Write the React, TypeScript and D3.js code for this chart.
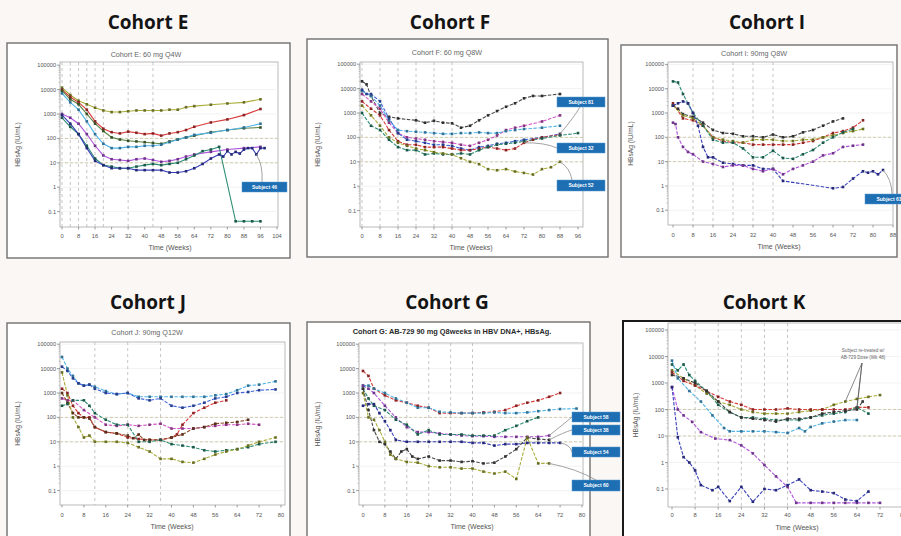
import React from 'react';
import * as d3 from 'd3';

type Pt = [number, number];

// ---- shared ticks ----
const yTicks = [0.1, 1, 10, 100, 1000, 10000, 100000];
const yTickLabels = ['0.1', '1', '10', '100', '1000', '10000', '100000'];
const ticksE = [0, 8, 16, 24, 32, 40, 48, 56, 64, 72, 80, 88, 96, 104];
const ticksF = [0, 8, 16, 24, 32, 40, 48, 56, 64, 72, 80, 88, 96];
const ticksI = [0, 8, 16, 24, 32, 40, 48, 56, 64, 72, 80, 88];
const ticksJG = [0, 8, 16, 24, 32, 40, 48, 56, 64, 72, 80];
const ticksK = [0, 8, 16, 24, 32, 40, 48, 56, 64, 72, 80];

// ---- Cohort E: 60 mg Q4W ----
const eOlive: Pt[] = [[0, 12000], [4, 6000], [8, 3500], [12, 2500], [16, 1800], [20, 1400], [24, 1200], [28, 1200], [32, 1300], [36, 1400], [40, 1400], [44, 1400], [48, 1400], [52, 1500], [56, 1500], [60, 1900], [64, 2100], [72, 2400], [80, 2700], [88, 3000], [96, 4000]];
const eRed: Pt[] = [[0, 10000], [4, 5000], [8, 3000], [12, 1500], [16, 500], [20, 250], [24, 180], [28, 160], [32, 190], [36, 170], [40, 150], [44, 160], [48, 130], [52, 160], [56, 180], [60, 220], [64, 300], [72, 450], [80, 600], [88, 900], [96, 1600]];
const eDkGreen: Pt[] = [[0, 9000], [4, 4000], [8, 2500], [12, 1000], [16, 400], [20, 200], [24, 110], [28, 90], [32, 80], [36, 75], [40, 70], [44, 65], [48, 60], [52, 75], [56, 90], [60, 110], [64, 130], [72, 180], [80, 220], [88, 260], [96, 280]];
const eCyan: Pt[] = [[0, 7000], [4, 3000], [8, 1500], [12, 500], [16, 150], [20, 60], [24, 40], [28, 40], [32, 45], [36, 45], [40, 50], [44, 50], [48, 55], [52, 70], [56, 90], [60, 110], [64, 140], [72, 170], [80, 220], [88, 280], [96, 400]];
const ePurple: Pt[] = [[0, 1000], [4, 700], [8, 400], [12, 150], [16, 50], [20, 20], [24, 14], [28, 13], [32, 12], [36, 14], [40, 15], [44, 13], [48, 11], [52, 12], [56, 14], [60, 18], [64, 22], [72, 28], [80, 35], [88, 40], [96, 45]];
const eTeal: Pt[] = [[0, 700], [4, 300], [8, 150], [12, 50], [16, 15], [20, 8], [24, 7], [28, 6], [32, 6], [36, 7], [40, 8], [44, 9], [48, 8], [52, 9], [56, 10], [60, 14], [64, 20], [68, 30], [72, 35], [76, 45], [84, 0.04], [88, 0.04], [92, 0.04], [96, 0.04]];
const eNavy: Pt[] = [[0, 900], [4, 400], [8, 150], [12, 40], [16, 12], [20, 8], [24, 6], [28, 6], [32, 6], [36, 5], [40, 5], [44, 5], [48, 5], [52, 4], [56, 4], [60, 4.5], [64, 6], [68, 9], [72, 15], [76, 22], [78, 18], [80, 30], [82, 22], [84, 28], [86, 24], [88, 35], [90, 40], [92, 40], [94, 22], [96, 40], [98, 40]];

// ---- Cohort F: 60 mg Q8W ----
const fBlack: Pt[] = [[0, 20000], [2, 15000], [4, 5000], [8, 1000], [12, 700], [16, 600], [24, 500], [28, 400], [32, 480], [36, 400], [40, 380], [44, 250], [48, 300], [52, 500], [56, 800], [60, 1200], [64, 1800], [68, 2500], [72, 4000], [76, 5000], [80, 5000], [88, 6000]];
const fMagenta: Pt[] = [[0, 6000], [4, 3000], [8, 1500], [12, 400], [16, 150], [20, 100], [24, 90], [28, 80], [32, 70], [36, 65], [40, 60], [44, 50], [48, 45], [52, 60], [56, 80], [60, 120], [64, 200], [68, 250], [72, 300], [80, 450], [88, 800]];
const fCyan: Pt[] = [[0, 8000], [4, 5000], [8, 2000], [12, 500], [16, 200], [20, 180], [24, 170], [28, 160], [32, 150], [36, 140], [40, 140], [44, 150], [48, 150], [52, 160], [56, 150], [60, 150], [64, 180], [68, 200], [72, 220], [80, 250], [88, 300]];
const fBlue: Pt[] = [[0, 9000], [2, 6000], [4, 6000], [8, 3000], [12, 600], [16, 150], [20, 80], [24, 70], [28, 60], [32, 50], [36, 50], [40, 45], [44, 35], [48, 30], [52, 40], [56, 45], [60, 55], [64, 60], [68, 70], [72, 80], [80, 100], [88, 140]];
const fRed: Pt[] = [[0, 3000], [4, 1500], [8, 800], [12, 200], [16, 70], [20, 50], [24, 50], [28, 40], [32, 40], [36, 40], [40, 35], [44, 30], [48, 30], [52, 35], [56, 40], [60, 35], [64, 30], [68, 35], [72, 60], [76, 80], [80, 100], [88, 130]];
const fGreen: Pt[] = [[0, 1000], [4, 300], [8, 200], [12, 80], [16, 40], [20, 30], [24, 30], [28, 20], [32, 22], [36, 20], [40, 20], [44, 22], [48, 20], [52, 30], [56, 40], [60, 50], [64, 55], [68, 60], [72, 70], [80, 90], [88, 120], [96, 150]];
const fOlive: Pt[] = [[0, 2000], [4, 800], [8, 300], [12, 100], [16, 60], [20, 45], [24, 35], [28, 30], [32, 25], [36, 22], [40, 20], [44, 14], [48, 10], [52, 8], [56, 5], [60, 4.5], [64, 5], [68, 4], [72, 3.5], [76, 3], [80, 5], [84, 6], [88, 10]];

// ---- Cohort I: 90mg Q8W ----
const iBlack: Pt[] = [[0, 2000], [2, 1500], [4, 900], [8, 700], [12, 400], [16, 200], [20, 150], [24, 140], [28, 110], [32, 110], [36, 100], [40, 130], [44, 100], [48, 110], [52, 160], [56, 200], [60, 300], [64, 450], [68, 600]];
const iRed: Pt[] = [[0, 2500], [4, 600], [8, 500], [12, 300], [16, 100], [20, 70], [24, 60], [28, 60], [32, 50], [36, 50], [40, 50], [44, 50], [48, 50], [52, 60], [56, 70], [60, 100], [64, 150], [68, 180], [72, 250], [76, 500]];
const iOlive: Pt[] = [[0, 2000], [4, 800], [8, 600], [12, 300], [16, 100], [20, 80], [24, 70], [28, 60], [32, 80], [36, 80], [40, 80], [44, 70], [48, 70], [52, 80], [56, 80], [60, 100], [64, 120], [68, 150], [72, 180], [76, 220]];
const iTeal: Pt[] = [[0, 20000], [2, 18000], [4, 6000], [6, 2500], [8, 1000], [12, 300], [16, 80], [20, 60], [24, 60], [28, 35], [32, 15], [36, 15], [40, 28], [44, 14], [48, 13], [52, 20], [56, 30], [60, 60], [64, 100], [68, 160], [72, 220]];
const iNavy: Pt[] = [[0, 2000], [2, 2500], [4, 3000], [6, 2500], [8, 1000], [10, 300], [12, 40], [14, 15], [16, 15], [20, 9], [24, 8], [28, 7], [32, 7], [36, 5], [40, 5], [44, 1.6], [64, 0.8], [68, 0.9], [72, 2], [76, 4], [78, 3.5], [80, 4], [82, 3], [84, 4.5]];
const iPurple: Pt[] = [[0, 400], [1, 350], [2, 100], [4, 40], [6, 25], [8, 20], [12, 10], [16, 8], [20, 6], [24, 7], [28, 7], [32, 5], [36, 4], [40, 5], [44, 3], [48, 5], [52, 7], [56, 10], [60, 18], [64, 22], [68, 40], [72, 45], [76, 50]];

// ---- Cohort J: 90mg Q12W ----
const jCyan: Pt[] = [[0, 30000], [2, 10000], [4, 5000], [6, 2500], [8, 2000], [10, 2200], [12, 1800], [16, 1200], [20, 900], [24, 1000], [28, 700], [32, 700], [36, 700], [40, 700], [44, 700], [48, 700], [52, 700], [56, 800], [60, 900], [64, 1300], [68, 2000], [72, 2200], [78, 3000]];
const jBlue: Pt[] = [[0, 12000], [2, 8000], [4, 4000], [6, 2500], [8, 2000], [10, 2200], [12, 1500], [16, 1000], [20, 900], [24, 1000], [28, 600], [32, 500], [36, 600], [40, 300], [44, 250], [48, 300], [52, 400], [56, 600], [60, 700], [64, 1000], [68, 1100], [72, 1300], [78, 1400]];
const jRed: Pt[] = [[0, 1500], [2, 1000], [4, 300], [6, 150], [8, 100], [10, 100], [12, 40], [16, 25], [20, 22], [24, 15], [28, 13], [32, 12], [36, 12], [40, 15], [42, 20], [44, 50], [48, 150], [52, 250], [56, 400], [60, 500]];
const jMagenta: Pt[] = [[0, 600], [2, 500], [4, 500], [8, 200], [12, 100], [16, 50], [20, 45], [24, 50], [28, 45], [32, 50], [36, 55], [40, 35], [44, 35], [48, 35], [52, 40], [56, 45], [60, 50], [64, 50], [68, 55], [72, 50]];
const jBrown: Pt[] = [[0, 1000], [2, 400], [4, 150], [6, 100], [8, 100], [10, 90], [12, 40], [16, 25], [20, 22], [24, 18], [26, 14], [28, 20], [30, 12], [32, 12], [36, 12], [40, 15], [44, 20], [48, 35], [52, 40], [56, 55], [60, 60], [64, 65], [68, 80]];
const jTeal: Pt[] = [[0, 300], [2, 350], [4, 500], [8, 500], [10, 300], [12, 150], [16, 80], [20, 50], [24, 50], [28, 10], [32, 10], [36, 12], [40, 8], [44, 7], [48, 6], [52, 4.5], [56, 4], [60, 4.5], [64, 5], [68, 6], [72, 8], [78, 10]];
const jOlive: Pt[] = [[0, 7000], [2, 800], [4, 100], [6, 40], [8, 15], [10, 18], [12, 10], [16, 10], [20, 10], [24, 9], [28, 6], [32, 4], [36, 2], [40, 2], [44, 1.5], [48, 1.4], [52, 2], [56, 3], [60, 4], [64, 5], [68, 7], [72, 10], [78, 15]];

// ---- Cohort G: AB-729 90 mg Q8weeks ----
const gRed: Pt[] = [[0, 8000], [2, 5000], [4, 1500], [8, 800], [12, 500], [16, 400], [20, 300], [24, 250], [28, 150], [32, 150], [36, 150], [40, 150], [44, 160], [48, 170], [52, 200], [56, 300], [60, 400], [64, 500], [68, 700], [72, 1000]];
const gCyan: Pt[] = [[0, 2000], [2, 2000], [4, 1500], [8, 1000], [12, 600], [16, 400], [20, 250], [24, 250], [28, 170], [32, 160], [36, 150], [40, 150], [44, 150], [48, 160], [52, 150], [56, 150], [60, 160], [64, 180], [68, 200], [72, 220], [78, 230]];
const gMagenta: Pt[] = [[0, 2000], [2, 1500], [4, 1000], [8, 300], [12, 100], [16, 40], [20, 25], [24, 25], [28, 22], [32, 20], [36, 18], [40, 17], [44, 17], [48, 16], [52, 16], [56, 16], [60, 16], [64, 16], [68, 18]];
const gTeal: Pt[] = [[0, 1500], [2, 600], [4, 300], [8, 200], [12, 80], [16, 50], [20, 20], [24, 30], [28, 20], [32, 20], [36, 20], [40, 18], [44, 18], [48, 18], [52, 30], [56, 45], [60, 70], [64, 100]];
const gNavy: Pt[] = [[0, 300], [2, 350], [4, 350], [6, 150], [8, 70], [10, 30], [12, 12], [16, 10], [20, 10], [24, 10], [28, 10], [32, 10], [36, 10], [40, 9], [44, 9], [48, 7], [52, 8], [56, 8], [60, 9], [64, 9], [68, 9], [72, 9]];
const gBlack: Pt[] = [[0, 1500], [2, 200], [4, 30], [6, 10], [8, 8], [10, 4], [12, 2], [14, 4], [16, 5], [18, 2.5], [20, 2], [24, 2.5], [28, 1.7], [32, 1.7], [36, 1.5], [40, 1.6], [44, 1.3], [48, 1.4], [52, 2.5], [56, 5], [60, 15], [64, 13], [68, 12]];
const gOlive: Pt[] = [[0, 1000], [2, 100], [4, 80], [6, 30], [8, 10], [10, 3], [12, 2], [16, 1.5], [20, 1.4], [24, 1], [28, 0.9], [32, 0.9], [36, 0.8], [40, 0.8], [44, 0.6], [48, 0.5], [52, 0.6], [56, 0.3], [60, 15], [64, 1.3], [68, 1.3]];

// ---- Cohort K ----
const kOlive: Pt[] = [[0, 3000], [4, 1500], [8, 800], [12, 400], [16, 200], [20, 150], [24, 100], [28, 80], [32, 70], [36, 70], [40, 70], [44, 80], [48, 90], [52, 100], [56, 150], [60, 200], [64, 250], [68, 300], [72, 350]];
const kRed: Pt[] = [[0, 2500], [4, 1200], [8, 800], [12, 500], [16, 300], [20, 200], [24, 150], [28, 100], [32, 100], [36, 100], [40, 110], [44, 100], [48, 100], [52, 100], [56, 100], [60, 100], [64, 120], [68, 120]];
const kTeal: Pt[] = [[0, 5000], [2, 3000], [4, 5000], [6, 2000], [8, 1200], [12, 500], [16, 150], [20, 80], [24, 50], [28, 50], [32, 45], [36, 40], [40, 40], [44, 40], [48, 50], [52, 60], [56, 70], [60, 80], [64, 120], [68, 70]];
const kBlack: Pt[] = [[0, 2000], [4, 1500], [8, 1000], [12, 500], [16, 200], [20, 80], [24, 50], [28, 45], [32, 40], [36, 35], [40, 45], [44, 45], [48, 50], [52, 70], [56, 80], [60, 90], [64, 100], [66, 200]];
const kCyan: Pt[] = [[0, 7000], [2, 1500], [6, 500], [10, 200], [14, 60], [18, 20], [20, 15], [24, 15], [28, 15], [32, 15], [36, 14], [40, 13], [44, 20], [46, 15], [48, 22], [52, 30], [56, 35], [60, 40], [64, 40]];
const kPurple: Pt[] = [[0, 700], [2, 100], [4, 60], [7, 34], [10, 14], [15, 8], [20, 7], [24, 4.4], [28, 2.2], [32, 0.8], [36, 0.3], [40, 0.12], [43, 0.03], [48, 0.03], [52, 0.03], [56, 0.03], [60, 0.03], [64, 0.03], [68, 0.03], [72, 0.03]];
const kIndigo: Pt[] = [[0, 700], [2, 9], [4, 1.6], [6, 1], [8, 0.5], [10, 0.14], [14, 0.09], [16, 0.12], [20, 0.035], [24, 0.12], [28, 0.033], [32, 0.1], [36, 0.09], [40, 0.14], [44, 0.23], [48, 0.09], [52, 0.08], [56, 0.07], [60, 0.04], [64, 0.035], [68, 0.08]];

const C = {
  olive: '#a9ad3a', red: '#d83a3a', dkGreen: '#55803f', cyan: '#4fb4ea', purple: '#b055dc',
  teal: '#2c8c74', navy: '#3a40bb', black: '#4a4a4a', magenta: '#d455c8', blue: '#3d62dc', brown: '#8a4a2a',
};

interface Callout { text: string; box: [number, number, number, number]; from: Pt; to: [number, number] }
interface PanelCfg {
  key: string; header: string; hx: number; hy: number;
  title: string; bold?: boolean; tx: number; ty: number;
  frame: [number, number, number, number]; frameStroke: string; frameWidth: number;
  plot: { left: number; right: number; top: number; bottom: number };
  x0: number; xEnd: number; xMax: number; y1000: number; dec: number;
  ticks: number[]; vDash: number[]; dashed: boolean;
  series: { data: Pt[]; color: string }[];
  tickY: number; axTitleX: number; axTitleY: number; yTitleX: number;
  callouts: Callout[];
}

const panels: PanelCfg[] = [
  {
    key: 'E', header: 'Cohort E', hx: 148, hy: 29, title: 'Cohort E: 60 mg Q4W', tx: 146, ty: 57,
    frame: [7, 43, 283, 215], frameStroke: '#707070', frameWidth: 1.4,
    plot: { left: 60, right: 278, top: 62, bottom: 227 }, x0: 62, xEnd: 277, xMax: 104, y1000: 114, dec: 24.4,
    ticks: ticksE, vDash: [0, 4, 8, 12, 16, 20, 32, 44], dashed: false,
    series: [
      { data: eOlive, color: C.olive }, { data: eRed, color: C.red }, { data: eDkGreen, color: C.dkGreen },
      { data: eCyan, color: C.cyan }, { data: ePurple, color: C.purple }, { data: eTeal, color: C.teal },
      { data: eNavy, color: C.navy },
    ],
    tickY: 238, axTitleX: 170, axTitleY: 250, yTitleX: 20,
    callouts: [{ text: 'Subject 46', box: [242, 182, 45, 10], from: eNavy[28], to: [262, 182] }],
  },
  {
    key: 'F', header: 'Cohort F', hx: 450, hy: 29, title: 'Cohort F: 60 mg Q8W', tx: 447, ty: 55,
    frame: [307, 39, 301, 218], frameStroke: '#707070', frameWidth: 1.4,
    plot: { left: 360, right: 583, top: 62, bottom: 227 }, x0: 362, xEnd: 578, xMax: 96, y1000: 113, dec: 24.4,
    ticks: ticksF, vDash: [0, 8, 16, 24, 32, 40], dashed: true,
    series: [
      { data: fBlack, color: C.black }, { data: fMagenta, color: C.magenta }, { data: fCyan, color: C.cyan },
      { data: fBlue, color: C.blue }, { data: fRed, color: C.red }, { data: fGreen, color: C.teal },
      { data: fOlive, color: C.olive },
    ],
    tickY: 238, axTitleX: 471, axTitleY: 250, yTitleX: 320,
    callouts: [
      { text: 'Subject 81', box: [557, 97, 48, 10], from: fBlue[21], to: [580, 107] },
      { text: 'Subject 32', box: [557, 143, 48, 10], from: fRed[18], to: [557, 148] },
      { text: 'Subject 52', box: [557, 180, 48, 11], from: fOlive[22], to: [572, 180] },
    ],
  },
  {
    key: 'I', header: 'Cohort I', hx: 767, hy: 29, title: 'Cohort I: 90mg Q8W', tx: 754, ty: 56,
    frame: [621, 45, 276, 212], frameStroke: '#707070', frameWidth: 1.4,
    plot: { left: 668, right: 893, top: 62, bottom: 225 }, x0: 673, xEnd: 893, xMax: 88, y1000: 113, dec: 24.3,
    ticks: ticksI, vDash: [8, 16, 24, 32, 40], dashed: true,
    series: [
      { data: iBlack, color: C.black }, { data: iRed, color: C.red }, { data: iOlive, color: C.olive },
      { data: iTeal, color: C.teal }, { data: iNavy, color: C.navy }, { data: iPurple, color: C.purple },
    ],
    tickY: 237, axTitleX: 779, axTitleY: 249, yTitleX: 633,
    callouts: [{ text: 'Subject 61', box: [865, 194, 48, 10], from: iNavy[23], to: [892, 194] }],
  },
  {
    key: 'J', header: 'Cohort J', hx: 148, hy: 309, title: 'Cohort J: 90mg Q12W', tx: 147, ty: 335,
    frame: [7, 323, 283, 230], frameStroke: '#707070', frameWidth: 1.4,
    plot: { left: 60, right: 285, top: 342, bottom: 505 }, x0: 62, xEnd: 281, xMax: 80, y1000: 393, dec: 24.4,
    ticks: ticksJG, vDash: [12, 24, 36], dashed: true,
    series: [
      { data: jCyan, color: C.cyan }, { data: jBlue, color: C.blue }, { data: jRed, color: C.red },
      { data: jMagenta, color: C.magenta }, { data: jBrown, color: C.brown }, { data: jTeal, color: C.teal },
      { data: jOlive, color: C.olive },
    ],
    tickY: 517, axTitleX: 172, axTitleY: 529, yTitleX: 20,
    callouts: [],
  },
  {
    key: 'G', header: 'Cohort G', hx: 447, hy: 309, title: 'Cohort G: AB-729 90 mg Q8weeks in HBV DNA+, HBsAg.', bold: true, tx: 452, ty: 334,
    frame: [307, 322, 283, 230], frameStroke: '#707070', frameWidth: 1.4,
    plot: { left: 359, right: 583, top: 343, bottom: 505 }, x0: 363, xEnd: 582, xMax: 80, y1000: 393, dec: 24.4,
    ticks: ticksJG, vDash: [8, 16, 24, 32, 40], dashed: true,
    series: [
      { data: gRed, color: C.red }, { data: gCyan, color: C.cyan }, { data: gMagenta, color: C.purple },
      { data: gTeal, color: C.teal }, { data: gNavy, color: C.navy }, { data: gBlack, color: C.black },
      { data: gOlive, color: C.olive },
    ],
    tickY: 517, axTitleX: 472, axTitleY: 529, yTitleX: 320,
    callouts: [
      { text: 'Subject 58', box: [572, 412, 48, 10], from: gMagenta[18], to: [572, 417] },
      { text: 'Subject 38', box: [572, 425, 48, 10], from: gBlack[22], to: [572, 430] },
      { text: 'Subject 54', box: [572, 447, 48, 10], from: gNavy[21], to: [572, 452] },
      { text: 'Subject 60', box: [572, 480, 48, 11], from: gOlive[20], to: [596, 480] },
    ],
  },
  {
    key: 'K', header: 'Cohort K', hx: 764, hy: 309, title: '', tx: 0, ty: 0,
    frame: [623, 321, 300, 232], frameStroke: '#1a1a1a', frameWidth: 2,
    plot: { left: 668, right: 930, top: 323, bottom: 507 }, x0: 672, xEnd: 880, xMax: 72, y1000: 383, dec: 26.5,
    ticks: ticksK, vDash: [8, 16, 24, 32, 40], dashed: true,
    series: [
      { data: kOlive, color: C.olive }, { data: kRed, color: C.red }, { data: kTeal, color: C.teal },
      { data: kBlack, color: C.black }, { data: kCyan, color: C.cyan }, { data: kPurple, color: C.purple },
      { data: kIndigo, color: C.navy },
    ],
    tickY: 517, axTitleX: 797, axTitleY: 530, yTitleX: 638,
    callouts: [],
  },
];

const FONT = '"Liberation Sans", Arial, sans-serif';

function Panel({ cfg }: { cfg: PanelCfg }) {
  const { plot } = cfg;
  const x = d3.scaleLinear().domain([0, cfg.xMax]).range([cfg.x0, cfg.xEnd]);
  const yTop = Math.pow(10, 3 + (cfg.y1000 - plot.top) / cfg.dec);
  const yBot = Math.pow(10, 3 - (plot.bottom - cfg.y1000) / cfg.dec);
  const y = d3.scaleLog().domain([yBot, yTop]).range([plot.bottom, plot.top]);
  const line = d3.line<Pt>().x(d => x(d[0])).y(d => y(d[1]));
  const clipId = `clip-${cfg.key}`;
  const [fx, fy, fw, fh] = cfg.frame;
  const minor: number[] = [];
  yTicks.forEach(t => { for (let k = 2; k < 10; k++) { const v = t * k; if (v > yBot && v < yTop) minor.push(v); } });

  return (
    <g>
      <text x={cfg.hx} y={cfg.hy} textAnchor="middle" fontFamily='"Open Sans", sans-serif' fontWeight={700} fontSize={19} fill="#141414">{cfg.header}</text>
      <rect x={fx} y={fy} width={fw} height={fh} fill="#ffffff" stroke={cfg.frameStroke} strokeWidth={cfg.frameWidth} />
      {cfg.title && (
        <text x={cfg.tx} y={cfg.ty} textAnchor="middle" fontFamily={FONT} fontSize={cfg.bold ? 7.4 : 7.2}
          fontWeight={cfg.bold ? 700 : 400} fill={cfg.bold ? '#2a2a2a' : '#666'}>{cfg.title}</text>
      )}
      <defs>
        <clipPath id={clipId}>
          <rect x={plot.left} y={plot.top} width={plot.right - plot.left} height={plot.bottom - plot.top} />
        </clipPath>
      </defs>
      <rect x={plot.left} y={plot.top} width={plot.right - plot.left} height={plot.bottom - plot.top} fill="#fff" stroke="#a8a8a8" strokeWidth={0.8} />
      {/* light decade grid */}
      {yTicks.map(t => (
        <line key={`g${t}`} x1={plot.left} x2={plot.right} y1={y(t)} y2={y(t)} stroke="#ececec" strokeWidth={0.7} />
      ))}
      {[100, 10].map(t => (
        <line key={`h${t}`} x1={plot.left} x2={plot.right} y1={y(t)} y2={y(t)} stroke="#c7c39a" strokeWidth={0.8} strokeDasharray="3,2" />
      ))}
      {cfg.vDash.map(w => (
        <line key={`v${w}`} x1={x(w)} x2={x(w)} y1={plot.top} y2={plot.bottom} stroke="#b8b8b8" strokeWidth={0.8} strokeDasharray="3,3" />
      ))}
      <g clipPath={`url(#${clipId})`}>
        {cfg.series.map((s, i) => (
          <path key={`s${i}`} d={line(s.data) || ''} fill="none" stroke={s.color} strokeWidth={1.1}
            strokeDasharray={cfg.dashed ? '3.5,1.5' : undefined} />
        ))}
        {cfg.series.map((s, i) => {
          const mc = d3.color(s.color)!.darker(1.3).formatHex();
          return (
            <g key={`m${i}`} fill={mc}>
              {s.data.map((d, j) => (
                <rect key={j} x={x(d[0]) - 1.3} y={y(d[1]) - 1.3} width={2.6} height={2.6} />
              ))}
            </g>
          );
        })}
      </g>
      {/* y axis */}
      {yTicks.map((t, i) => (
        <g key={`yt${t}`}>
          <line x1={plot.left - 3} x2={plot.left} y1={y(t)} y2={y(t)} stroke="#777" strokeWidth={0.7} />
          <text x={plot.left - 4} y={y(t) + 2} textAnchor="end" fontFamily={FONT} fontSize={5.6} fill="#555">{yTickLabels[i]}</text>
        </g>
      ))}
      {minor.map(v => (
        <line key={`mn${v}`} x1={plot.left - 1.5} x2={plot.left} y1={y(v)} y2={y(v)} stroke="#999" strokeWidth={0.5} />
      ))}
      {/* x axis */}
      {cfg.ticks.map(t => (
        <g key={`xt${t}`}>
          <line x1={x(t)} x2={x(t)} y1={plot.bottom} y2={plot.bottom + 2.5} stroke="#777" strokeWidth={0.7} />
          <text x={x(t)} y={cfg.tickY} textAnchor="middle" fontFamily={FONT} fontSize={5.8} fill="#555">{t}</text>
        </g>
      ))}
      <text x={cfg.axTitleX} y={cfg.axTitleY} textAnchor="middle" fontFamily={FONT} fontSize={7} fill="#555">Time (Weeks)</text>
      <text transform={`translate(${cfg.yTitleX},${(plot.top + plot.bottom) / 2}) rotate(-90)`} textAnchor="middle"
        fontFamily={FONT} fontSize={6.6} fill="#555">HBsAg (IU/mL)</text>
      {/* callouts */}
      {cfg.callouts.map(c => {
        const sx = x(c.from[0]);
        const sy = y(c.from[1]);
        const [ex, ey] = c.to;
        return (
          <path key={`cl${c.text}`} d={`M${sx},${sy} Q${(sx + ex) / 2 + 4},${(sy + ey) / 2 - 3} ${ex},${ey}`}
            fill="none" stroke="#8a8a8a" strokeWidth={0.8} />
        );
      })}
      {cfg.callouts.map(c => (
        <g key={`bx${c.text}`}>
          <rect x={c.box[0]} y={c.box[1]} width={c.box[2]} height={c.box[3]} fill="#1d6eb3" stroke="#5b9ad0" strokeWidth={0.5} />
          <text x={c.box[0] + c.box[2] / 2} y={c.box[1] + c.box[3] / 2 + 1.8} textAnchor="middle" fontFamily={FONT}
            fontSize={5} fontWeight={700} fill="#fff">{c.text}</text>
        </g>
      ))}
      {cfg.key === 'K' && (
        <g>
          <text x={863} y={352} textAnchor="middle" fontFamily={FONT} fontSize={4.6} fill="#666">Subject re-treated w/</text>
          <text x={863} y={359} textAnchor="middle" fontFamily={FONT} fontSize={4.6} fill="#666">AB-729 Dose (Wk 48)</text>
          {[kOlive[15], kTeal[18], kBlack[16]].map((p, i) => (
            <line key={`ka${i}`} x1={862} y1={363} x2={x(p[0])} y2={y(p[1])} stroke="#555" strokeWidth={0.7} />
          ))}
        </g>
      )}
    </g>
  );
}

export default function App() {
  return (
    <svg width={901} height={536} style={{ position: 'absolute', left: 0, top: 0, display: 'block' }}>
      <rect x={0} y={0} width={901} height={536} fill="#fbf7f4" />
      {panels.map(p => <Panel key={p.key} cfg={p} />)}
    </svg>
  );
}
